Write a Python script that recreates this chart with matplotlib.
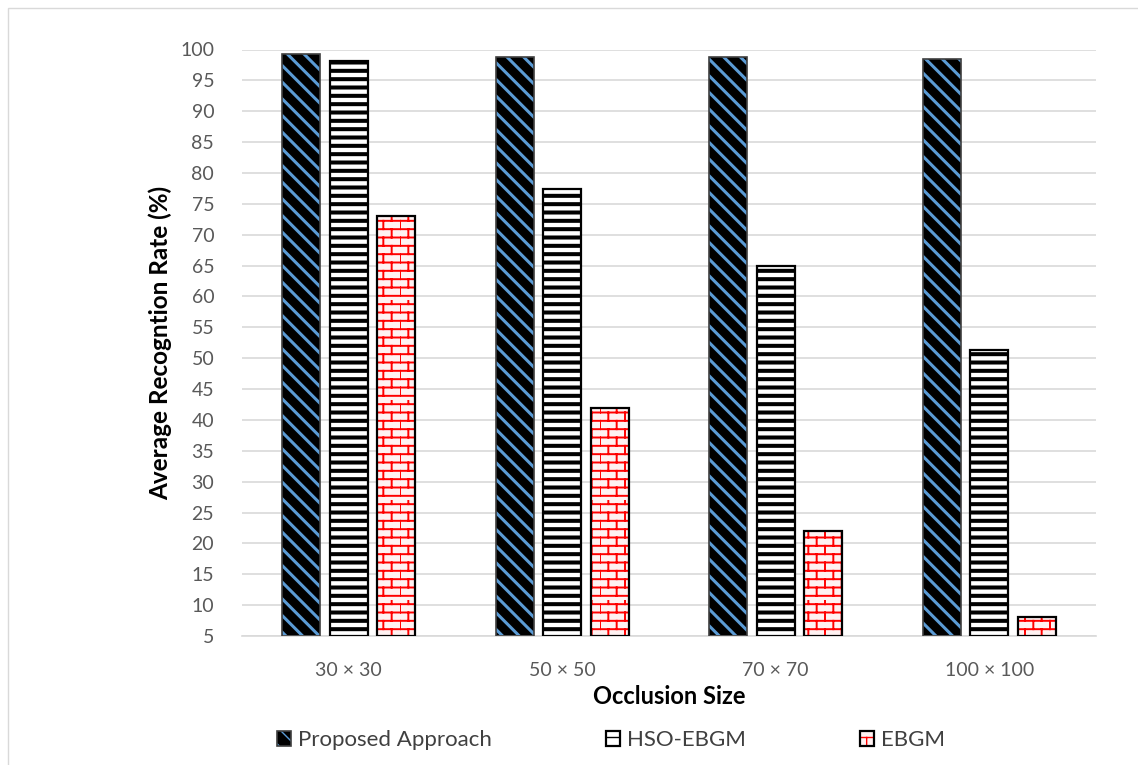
import warnings
import numpy as np
import matplotlib
matplotlib.use("Agg")
import matplotlib.pyplot as plt
from matplotlib import hatch as mhatch
from matplotlib.path import Path
from matplotlib.patches import Rectangle
from matplotlib.legend_handler import HandlerTuple

warnings.filterwarnings("ignore")

# ---- data ----
categories = ["30 × 30", "50 × 50", "70 × 70", "100 × 100"]
series_names = ["Proposed Approach", "HSO-EBGM", "EBGM"]
proposed = [99.2, 98.8, 98.8, 98.5]
hso_ebgm = [98.1, 77.4, 64.9, 51.3]
ebgm = [73.1, 41.9, 22.0, 8.0]
y_ticks = list(range(5, 101, 5))


# ---- brick hatch: rows of bricks with staggered joints ----
class BrickHatch(mhatch.HatchPatternBase):
    def __init__(self, hatch, density):
        n = hatch.count("b")
        self.rows = int(n * density * 2)
        self.per_row = int(n * density)
        self.num_vertices = (self.rows + self.rows * self.per_row) * 2

    def set_vertices_and_codes(self, vertices, codes):
        step = 1.0 / self.rows
        ys = np.arange(self.rows) * step + step / 2
        k = 0
        for y in ys:
            vertices[k] = (0.0, y)
            vertices[k + 1] = (1.0, y)
            codes[k] = Path.MOVETO
            codes[k + 1] = Path.LINETO
            k += 2
        bw = 1.0 / self.per_row
        for i, y in enumerate(ys):
            off = (bw / 2) * (i % 2)
            for j in range(self.per_row):
                x = j * bw + off
                vertices[k] = (x, y)
                vertices[k + 1] = (x, y + step)
                codes[k] = Path.MOVETO
                codes[k + 1] = Path.LINETO
                k += 2


mhatch._hatch_types.append(BrickHatch)

plt.rcParams["font.family"] = ["Lato", "DejaVu Sans"]

fig = plt.figure(figsize=(11.38, 7.65), dpi=100)
W, H = 1138, 765
ax = fig.add_axes([242 / W, 1 - 636 / H, (1096 - 242) / W, (636 - 49.5) / H])

# light frame around the chart area
fig.patches.append(Rectangle((8 / W, -0.1), 1.2, 1 - 8 / H + 0.1,
                             transform=fig.transFigure, fill=False,
                             edgecolor="#d9d9d9", linewidth=1.0))

x = np.arange(len(categories))
offset = 0.222
bw = 0.178

styles = [
    dict(face="#000000", hatch="\\\\", hcolor="#5b9bd5", hlw=2.2, edge="#404040", elw=1.2),
    dict(face="#ffffff", hatch="--", hcolor="#000000", hlw=2.9, edge="#000000", elw=1.6),
    dict(face="#fff2f2", hatch="b", hcolor="#ff0000", hlw=1.4, edge="#000000", elw=1.6),
]
series = [proposed, hso_ebgm, ebgm]


def hatched_rect(st, **kw):
    with plt.rc_context({"hatch.linewidth": st["hlw"]}):
        r = Rectangle((0, 0), 1, 1, facecolor=st["face"], edgecolor=st["hcolor"],
                      hatch=st["hatch"], linewidth=0, **kw)
    if hasattr(r, "set_hatch_linewidth"):
        r.set_hatch_linewidth(st["hlw"])
    return r


handles = []
for k, (vals, st) in enumerate(zip(series, styles)):
    pos = x + (k - 1) * offset
    heights = np.array(vals) - 5
    with plt.rc_context({"hatch.linewidth": st["hlw"]}):
        fill = ax.bar(pos, heights, bw, bottom=5, color=st["face"],
                      edgecolor=st["hcolor"], hatch=st["hatch"], linewidth=0,
                      zorder=2)
        for p in fill:
            if hasattr(p, "set_hatch_linewidth"):
                p.set_hatch_linewidth(st["hlw"])
    ax.bar(pos, heights, bw, bottom=5, fill=False,
           edgecolor=st["edge"], linewidth=st["elw"], zorder=3)
    h1 = hatched_rect(st)
    h2 = Rectangle((0, 0), 1, 1, fill=False, edgecolor=st["edge"], linewidth=st["elw"])
    handles.append((h1, h2))

ax.set_xlim(-0.5, len(categories) - 0.5)
ax.set_ylim(5, 100)
ax.set_yticks(y_ticks)
ax.set_xticks(x)
ax.set_xticklabels(categories)
ax.tick_params(axis="both", length=0, labelsize=14, labelcolor="#595959")
ax.tick_params(axis="x", pad=19)
ax.tick_params(axis="y", pad=20)
ax.yaxis.grid(True, color="#d9d9d9", linewidth=1.2, zorder=0)
ax.set_axisbelow(True)
for s in ["top", "right", "left"]:
    ax.spines[s].set_visible(False)
ax.spines["bottom"].set_color("#d9d9d9")
ax.spines["bottom"].set_linewidth(1.2)

ax.set_ylabel("Average Recogntion Rate (%)", fontsize=17.5, fontweight="bold",
              color="#000000", labelpad=6)
ax.set_xlabel("Occlusion Size", fontsize=17, fontweight="bold", color="#000000",
              labelpad=4)

# legend entries placed along the bottom
legend_x = [277, 606, 860]
for hnd, name, lx in zip(handles, series_names, legend_x):
    fig.legend([hnd], [name], handler_map={tuple: HandlerTuple(ndivide=1, pad=0)},
               loc="center left", bbox_to_anchor=(lx / W, 1 - 740 / H),
               frameon=False, fontsize=16, handlelength=0.65, handleheight=0.65,
               handletextpad=0.3, labelcolor="#404040", borderpad=0,
               borderaxespad=0)

fig.savefig("out.png", dpi=100)
